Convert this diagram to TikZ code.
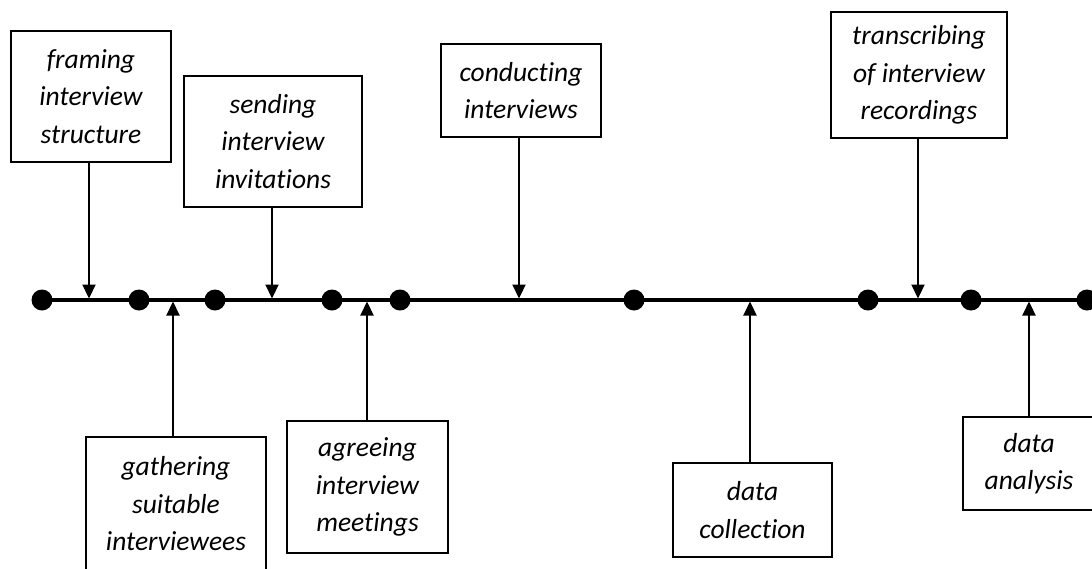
\documentclass[tikz,border=0pt]{standalone}
\usepackage{fontspec}
\setmainfont{Carlito}[Ligatures=NoCommon]
\usetikzlibrary{arrows.meta}
\begin{document}
\begin{tikzpicture}[x=1pt,y=-1pt,
  stage/.style={draw, line width=2.6pt, inner sep=0pt, align=center,
    font=\fontsize{27.5}{37.5}\selectfont\itshape},
  axis/.style={line width=3.2pt},
  tick/.style={circle, fill, inner sep=0pt, minimum size=21pt},
  pointer/.style={line width=2.2pt, shorten >=1.5pt,
    -{Triangle[width=13pt,length=14pt]}}
]
\useasboundingbox (0,0) rectangle (1092,568);

% time axis and its milestones
\coordinate (axisend) at (1110,300);
\node[tick] (d1) at (42,300) {};
\draw[axis] (d1.center) -- (axisend);
\foreach \n/\x in {2/139,3/215,4/332,5/400,6/634,7/868,8/971,9/1087}
  \node[tick] (d\n) at (\x,300) {};

% points where the stages meet the axis
\coordinate (p1) at (89,300);
\coordinate (p2) at (173,300);
\coordinate (p3) at (272,300);
\coordinate (p4) at (367,300);
\coordinate (p5) at (519,300);
\coordinate (p6) at (750,300);
\coordinate (p7) at (918,300);
\coordinate (p8) at (1029,300);

% stages above the axis
\node[stage, minimum width=160pt, minimum height=131pt] (frame) at (91,96.5)
  {framing\\interview\\structure};
\node[stage, minimum width=178pt, minimum height=131pt] (send) at (273,141.5)
  {sending\\interview\\invitations};
\node[stage, minimum width=160pt, minimum height=93pt] (conduct) at (521,90.5)
  {conducting\\interviews};
\node[stage, minimum width=176pt, minimum height=126pt] (transcr) at (919,75)
  {transcribing\\of interview\\recordings};

% stages below the axis
\node[stage, minimum width=180pt, minimum height=134pt] (gather) at (176,504)
  {gathering\\suitable\\interviewees};
\node[stage, minimum width=161pt, minimum height=132pt] (agree) at (367.5,487)
  {agreeing\\interview\\meetings};
\node[stage, minimum width=159pt, minimum height=94pt] (collect) at (752.5,510)
  {data\\collection};
\node[stage, minimum width=132pt, minimum height=93pt] (analysis) at (1029,463.5)
  {data\\analysis};

% pointers
\draw[pointer] (frame.south -| p1) -- (p1);
\draw[pointer] (send.south -| p3) -- (p3);
\draw[pointer] (conduct.south -| p5) -- (p5);
\draw[pointer] (transcr.south -| p7) -- (p7);
\draw[pointer] (gather.north -| p2) -- (p2);
\draw[pointer] (agree.north -| p4) -- (p4);
\draw[pointer] (collect.north -| p6) -- (p6);
\draw[pointer] (analysis.north -| p8) -- (p8);
\end{tikzpicture}
\end{document}
